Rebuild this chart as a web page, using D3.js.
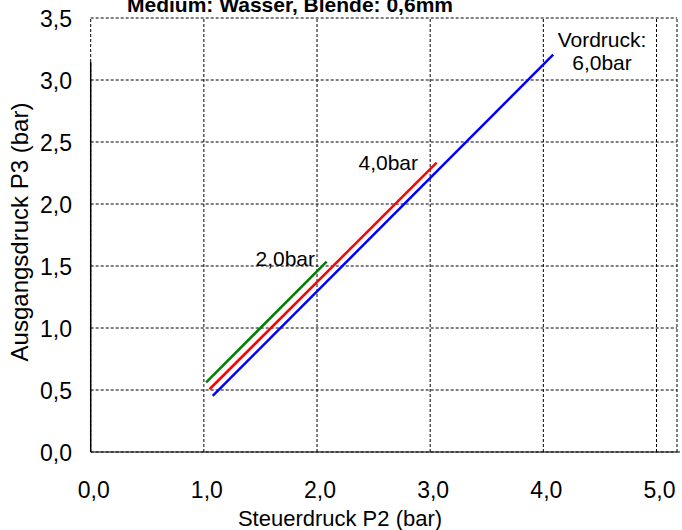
<!DOCTYPE html>
<html><head><meta charset="utf-8">
<script src="https://cdn.jsdelivr.net/npm/d3@7"></script>
<style>body{margin:0;background:#fff}svg{display:block;font-family:Arial,"Liberation Sans",sans-serif}</style>
</head><body><svg id="c" width="682" height="530"></svg>
<script>
const xTicks = [0,1,2,3,4,5];
const yTicks = [0,0.5,1,1.5,2,2.5,3,3.5];
const seriesNames = ["2,0bar","4,0bar","6,0bar"];
const seriesColors = ["#008000","#ff0000","#0000ff"];
const greenX = [1.02, 2.085], greenY = [0.562, 1.535];
const redX = [1.05, 3.057], redY = [0.506, 2.333];
const blueX = [1.078, 4.087], blueY = [0.452, 3.204];

const svg = d3.select("#c");
const x = d3.scaleLinear().domain([0,5]).range([90.7,656.5]);
const xMax = x.invert(677);
const y = d3.scaleLinear().domain([0,3.5]).range([452,18]);
const fmt = d => d3.format(".1f")(d).replace(".",",");

// grid
const g = svg.append("g").attr("stroke","#000").attr("stroke-width",1).attr("stroke-dasharray","3,2");
yTicks.forEach(t => g.append("line").attr("x1",x(0)).attr("x2",x(xMax)).attr("y1",y(t)).attr("y2",y(t)));
xTicks.forEach(t => g.append("line").attr("x1",x(t)).attr("x2",x(t)).attr("y1",y(0)).attr("y2",y(3.5)));
g.append("line").attr("x1",x(xMax)).attr("x2",x(xMax)).attr("y1",y(0)).attr("y2",y(3.5));

// axis lines
svg.append("line").attr("x1",x(0)).attr("x2",680).attr("y1",y(0)).attr("y2",y(0)).attr("stroke","#000").attr("stroke-width",1.2);
svg.append("line").attr("x1",x(0)).attr("x2",x(0)).attr("y1",y(0)).attr("y2",y(3.145)).attr("stroke","#000").attr("stroke-width",1.5);

// tick labels
svg.append("g").selectAll("text").data(yTicks).join("text")
  .attr("x",72).attr("y",d=>y(d)).attr("dy","0.38em").attr("text-anchor","end")
  .attr("font-size",23).text(fmt);
svg.append("g").selectAll("text").data(xTicks).join("text")
  .attr("x",d=>x(d)+3).attr("y",498).attr("text-anchor","middle")
  .attr("font-size",23).text(fmt);

// axis titles
svg.append("text").attr("x",340).attr("y",526).attr("text-anchor","middle").attr("font-size",22).text("Steuerdruck P2 (bar)");
svg.append("text").attr("transform","translate(28,232) rotate(-90)").attr("text-anchor","middle").attr("font-size",24).text("Ausgangsdruck P3 (bar)");

// title
svg.append("text").attr("x",290).attr("y",12).attr("text-anchor","middle").attr("font-size",21).attr("font-weight","bold").text("Medium: Wasser, Blende: 0,6mm");

// series
const line = d3.line().x(d=>x(d[0])).y(d=>y(d[1]));
const sets = [[greenX,greenY],[redX,redY],[blueX,blueY]];
sets.forEach((s,i)=>{
  const pts = s[0].map((v,j)=>[v,s[1][j]]);
  svg.append("path").datum(pts).attr("d",line).attr("fill","none").attr("stroke",seriesColors[i]).attr("stroke-width",2.5);
});

// labels
svg.append("text").attr("x",315).attr("y",266).attr("text-anchor","end").attr("font-size",21).text(seriesNames[0]);
svg.append("text").attr("x",418).attr("y",170).attr("text-anchor","end").attr("font-size",21).text(seriesNames[1]);
svg.append("text").attr("x",602).attr("y",47).attr("text-anchor","middle").attr("font-size",21).text("Vordruck:");
svg.append("text").attr("x",602).attr("y",70).attr("text-anchor","middle").attr("font-size",21).text(seriesNames[2]);
</script></body></html>
